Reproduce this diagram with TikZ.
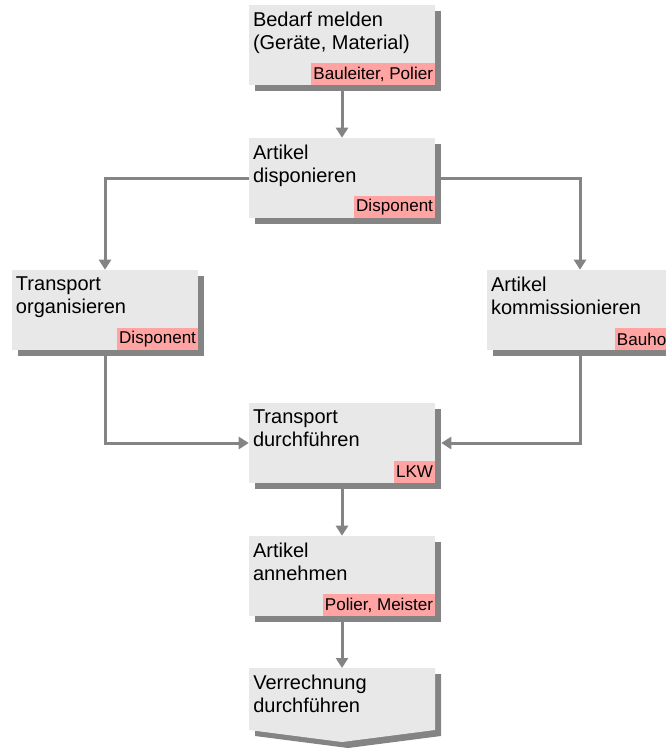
\documentclass[tikz,border=0pt]{standalone}
\usepackage{fontspec}
\setmainfont{Liberation Sans}
\usetikzlibrary{arrows.meta,shadows}
\definecolor{boxgray}{HTML}{E8E8E8}
\definecolor{shadowgray}{HTML}{848484}
\definecolor{rolepink}{HTML}{FFA3A3}
\tikzset{task/.style={rectangle, fill=boxgray, minimum width=139.5pt, minimum height=60pt, inner sep=0pt,
    drop shadow={shadow xshift=4.5pt, shadow yshift=-4.5pt, fill=shadowgray, opacity=1}},
tasktext/.style={anchor=north west, inner sep=0pt, align=left, font=\fontsize{15pt}{17.25pt}\selectfont},
%role label sits in the lower right corner of its box
role/.style={anchor=south east, fill=rolepink, inner xsep=1.5pt, inner ysep=0pt, minimum height=16.5pt,
    font=\fontsize{12.8pt}{14pt}\selectfont},
flow/.style={draw=shadowgray, line width=2.25pt, -{Triangle[length=7.5pt,width=9pt]}}}

\begin{document}
\begin{tikzpicture}[x=0.75pt,y=-0.75pt]

\clip (0,0) rectangle (666,749);

\node[task] (bedarf) at (342,45) {};
\node[task] (dispo) at (342,178) {};
\node[task] (orga) at (105,310) {};
\node[task] (komm) at (580,310) {};
\node[task] (durch) at (342,443) {};
\node[task] (annahme) at (342,576) {};

% last step is an arrow pointing down
\path[fill=boxgray, drop shadow={shadow xshift=4.5pt, shadow yshift=-4.5pt, fill=shadowgray, opacity=1}]
    (249,668) -- (435,668) -- (435,730) -- (342,742) -- (249,730) -- cycle;
\coordinate (verr) at (342,668);

\node[tasktext] (t1) at ([shift={(4,7)}]bedarf.north west) {Bedarf melden\\(Geräte, Material)};
\node[tasktext] (t2) at ([shift={(4,7)}]dispo.north west) {Artikel\\disponieren};
\node[tasktext] (t3) at ([shift={(4,7)}]orga.north west) {Transport\\organisieren};
\node[tasktext] (t4) at ([shift={(4,7)}]komm.north west) {Artikel\\kommissionieren};
\node[tasktext] (t5) at ([shift={(4,7)}]durch.north west) {Transport\\durchführen};
\node[tasktext] (t6) at ([shift={(4,7)}]annahme.north west) {Artikel\\annehmen};
\node[tasktext] (t7) at ([shift={(4,7)}]verr) [anchor=north west, xshift=-69.75pt] {Verrechnung\\durchführen};

\node[role] (r1) at (bedarf.south east) {Bauleiter, Polier};
\node[role] (r2) at (dispo.south east) {Disponent};
\node[role] (r3) at (orga.south east) {Disponent};
\node[role] (r4) at (komm.south east) {Bauhof};
\node[role] (r5) at (durch.south east) {LKW};
\node[role] (r6) at (annahme.south east) {Polier, Meister};

\draw[flow] ([yshift=-4.5pt]bedarf.south) -- (dispo.north);
\draw[flow] (dispo.west) -| (orga.north);
\draw[flow] ([xshift=4.5pt]dispo.east) -| (komm.north);
\draw[flow] ([yshift=-4.5pt]orga.south) |- (durch.west);
\draw[flow] ([yshift=-4.5pt]komm.south) |- ([xshift=4.5pt]durch.east);
\draw[flow] ([yshift=-4.5pt]durch.south) -- (annahme.north);
\draw[flow] ([yshift=-4.5pt]annahme.south) -- (verr);

\end{tikzpicture}
\end{document}
